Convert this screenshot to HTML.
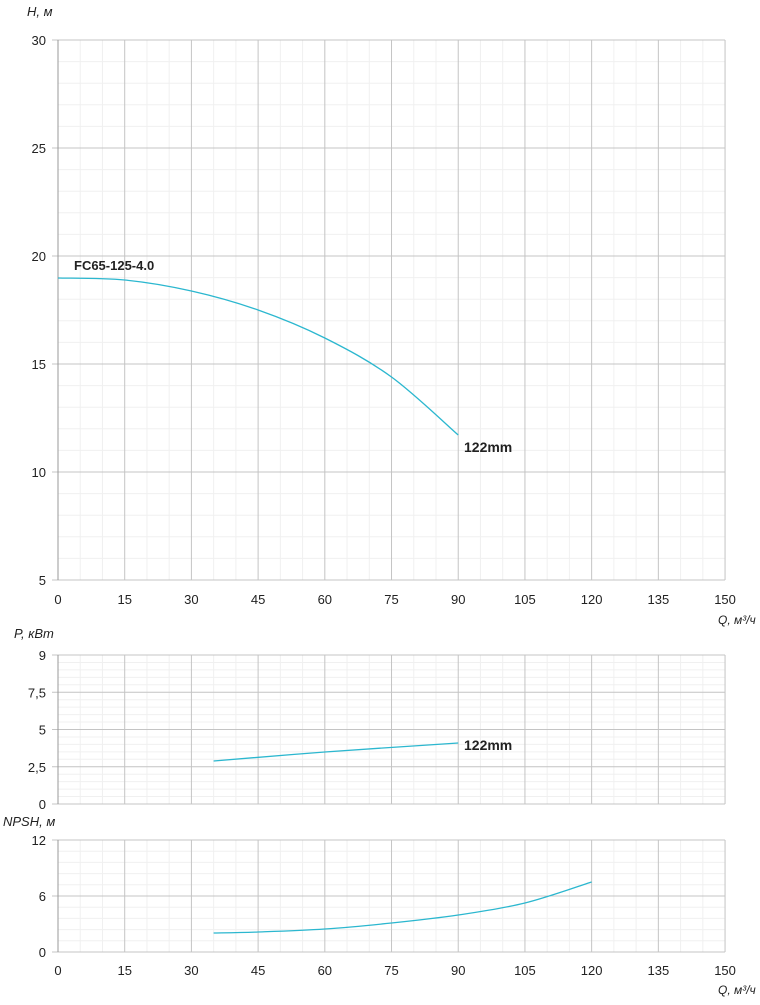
<!DOCTYPE html>
<html><head><meta charset="utf-8"><style>
body{margin:0;background:#fff}
svg text{font-family:"Liberation Sans",sans-serif;fill:#222}
</style></head><body>
<svg id="s" width="760" height="1000" xmlns="http://www.w3.org/2000/svg"></svg>
<script>
const s=document.getElementById('s');let h='';
const X=q=>58+q*4.447;
function panel(top,bot,ymax,major,minorN,labels){
  for(let q=0;q<=150;q+=5){if(q%15)h+=`<line x1="${X(q)}" y1="${top}" x2="${X(q)}" y2="${bot}" stroke="#f0f0f0" stroke-width="1"/>`;}
  const n=ymax/major;const step=(bot-top)/n;
  for(let i=0;i<n;i++){const y=top+i*step;
    for(let k=1;k<minorN;k++){const yy=y+k*step/minorN;h+=`<line x1="58" y1="${yy}" x2="${X(150)}" y2="${yy}" stroke="#f0f0f0"/>`;}}
  for(let q=15;q<=150;q+=15){h+=`<line x1="${X(q)}" y1="${top}" x2="${X(q)}" y2="${bot}" stroke="#c4c4c4" stroke-width="1"/>`;}
  for(let i=0;i<=n;i++){const y=top+i*step;
    h+=`<line x1="52" y1="${y}" x2="${X(150)}" y2="${y}" stroke="#c4c4c4"/>`;
    h+=`<text x="46" y="${y+5}" text-anchor="end" font-size="13">${labels[n-i]}</text>`;}
  h+=`<line x1="58" y1="${top}" x2="58" y2="${bot}" stroke="#999"/>`;
}
panel(40,580,25,5,5,['5','10','15','20','25','30']);
panel(655,804,9,2.25,5,['0','2,5','5','7,5','9']);
panel(840,952,12,6,5,['0','6','12']);
for(let q=0;q<=150;q+=15){h+=`<text x="${X(q)}" y="604" text-anchor="middle" font-size="13">${q}</text><text x="${X(q)}" y="975" text-anchor="middle" font-size="13">${q}</text>`;}
h+=`<text x="27" y="16" font-size="13" font-style="italic">H, м</text>`;
h+=`<text x="14" y="638" font-size="13" font-style="italic">P, кВт</text>`;
h+=`<text x="3" y="826" font-size="13" font-style="italic">NPSH, м</text>`;
h+=`<text x="718" y="624" font-size="12" font-style="italic">Q, м³/ч</text>`;
h+=`<text x="718" y="994" font-size="12" font-style="italic">Q, м³/ч</text>`;
function cr(p){let d=`M${p[0][0]},${p[0][1]}`;
  for(let i=0;i<p.length-1;i++){const p0=p[i-1]||p[i],p1=p[i],p2=p[i+1],p3=p[i+2]||p2;
    d+=` C${p1[0]+(p2[0]-p0[0])/6},${p1[1]+(p2[1]-p0[1])/6} ${p2[0]-(p3[0]-p1[0])/6},${p2[1]-(p3[1]-p1[1])/6} ${p2[0]},${p2[1]}`;}
  return `<path fill="none" stroke="#2bb7cf" stroke-width="1.3" d="${d}"/>`;}
h+=cr([[58,278],[124.7,280],[191.4,291],[258.1,310],[324.8,338],[391.5,377],[458.2,435]]);
h+=cr([[213.6,761],[324.8,752],[458.2,743]]);
h+=cr([[213.6,933],[258.1,932],[324.8,929],[391.5,923],[458.2,915],[524.9,903],[591.6,882]]);
h+=`<text x="74" y="270" font-size="13" font-weight="bold">FC65-125-4.0</text>`;
h+=`<text x="464" y="452" font-size="14" font-weight="bold">122mm</text>`;
h+=`<text x="464" y="750" font-size="14" font-weight="bold">122mm</text>`;
s.innerHTML=h;
</script>
</body></html>
